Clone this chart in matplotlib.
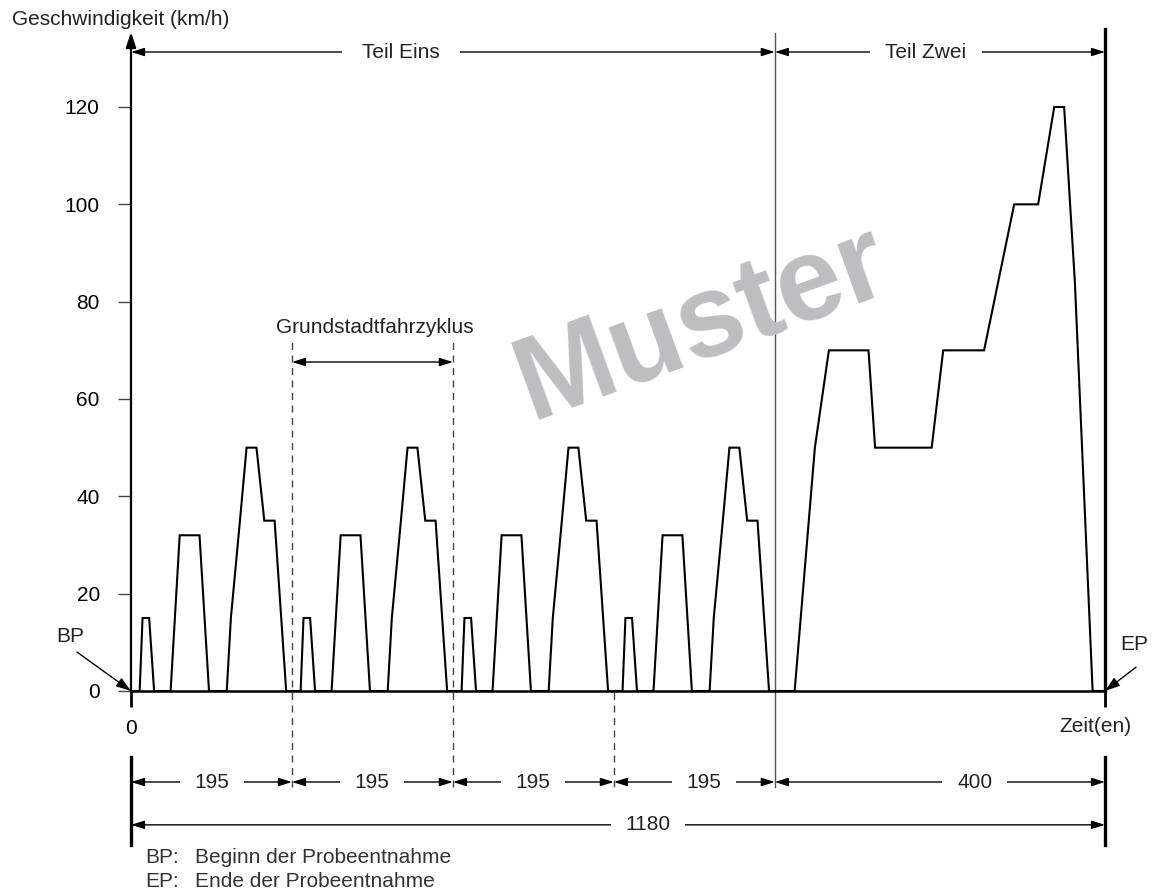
import matplotlib
matplotlib.use("Agg")
import numpy as np
import matplotlib.pyplot as plt

plt.rcParams['font.family'] = ['Liberation Sans', 'DejaVu Sans']

# Ein Grundstadtfahrzyklus (Zeit in s, Geschwindigkeit in km/h)
cycle_t = [0, 10.5, 14, 22, 28, 48, 59, 83, 94.5, 116, 121, 132, 140, 152, 161.5, 174, 188, 195]
cycle_v = [0, 0, 15, 15, 0, 0, 32, 32, 0, 0, 15, 35, 50, 50, 35, 35, 0, 0]
cycle_starts = [0, 195, 390, 585]

# Teil Zwei (ab 780 s)
eudc_start = 780
eudc_t = [0, 24, 48.5, 65.5, 113.5, 121.5, 190, 204, 253.5, 290, 319, 338.5, 350.5, 363.5, 385, 400]
eudc_v = [0, 0, 50, 70, 70, 50, 50, 70, 70, 100, 100, 120, 120, 84, 0, 0]

seg_lengths = [195, 195, 195, 195, 400]
seg_labels = ["195", "195", "195", "195", "400"]
total = 1180
y_ticks = [0, 20, 40, 60, 80, 100, 120]

t = np.concatenate([np.array(cycle_t) + s for s in cycle_starts] + [np.array(eudc_t) + eudc_start])
v = np.concatenate([np.array(cycle_v) for s in cycle_starts] + [np.array(eudc_v)])

fig = plt.figure(figsize=(11.53, 8.91), dpi=100)
ax = fig.add_axes([131 / 1153, 200 / 891, 974 / 1153, 584 / 891])
ax.set_xlim(0, total)
ax.set_ylim(0, 120)
for s in ax.spines.values():
    s.set_visible(False)

FS = 15
ax.set_yticks(y_ticks)
ax.set_yticklabels([str(y) for y in y_ticks], fontsize=FS)
ax.tick_params(axis='y', direction='out', length=9.5, width=1, color='#444', pad=13)
ax.set_xticks([0, total])
ax.set_xticklabels(["0", ""], fontsize=FS)
ax.tick_params(axis='x', direction='out', length=11.5, width=2, color='k', pad=9)

def arrow(x0, y0, x1, y1, style='<|-|>', lw=1.0, color='k', hl=0.8, hw=0.25):
    ax.annotate('', xy=(x1, y1), xytext=(x0, y0), annotation_clip=False,
                arrowprops=dict(arrowstyle=f'{style},head_length={hl},head_width={hw}',
                                lw=lw, color=color, shrinkA=0, shrinkB=0,
                                mutation_scale=10))

def label(x, y, s, pad=0.75):
    ax.text(x, y, s, fontsize=FS, ha='center', va='center', color='#222', zorder=5,
            bbox=dict(boxstyle=f'square,pad={pad}', fc='white', ec='none'))

# Achsen
arrow(0, 0, 0, 135.4, style='-|>', lw=1.6, hl=0.9, hw=0.3)
ax.plot([0, total], [0, 0], color='k', lw=1.8, clip_on=False, zorder=3)
ax.plot([total, total], [0, 136.0], color='k', lw=2.4, clip_on=False, zorder=3)

# Kurve
ax.plot(t, v, color='k', lw=1.5, clip_on=False, solid_joinstyle='miter', zorder=4)

# Trennlinie Teil Eins / Teil Zwei
ax.plot([eudc_start, eudc_start], [-19.7, 135.2], color='#555', lw=1.0, clip_on=False)

# Gestrichelte Zyklusgrenzen
for b, top in zip(cycle_starts[1:], [72.1, 72.1, 0]):
    ax.plot([b, b], [-19.7, top], color='#444', lw=1.0, ls=(0, (5, 4)), clip_on=False)

# Teil Eins / Teil Zwei
arrow(0, 131.3, eudc_start, 131.3)
label(327, 131.3, "Teil Eins", pad=0.95)
arrow(eudc_start, 131.3, total, 131.3)
label(963, 131.3, "Teil Zwei", pad=0.75)

# Grundstadtfahrzyklus
ax.text(292.5 + 3, 74.6, "Grundstadtfahrzyklus", fontsize=FS, ha='center', va='center', color='#222')
arrow(195, 67.6, 390, 67.6)

# Bemaßung unten
bounds = np.concatenate([[0], np.cumsum(seg_lengths)])
label_x = [98, 292, 487, 694, 1022]
for i, lab in enumerate(seg_labels):
    arrow(bounds[i], -18.7, bounds[i + 1], -18.7)
    label(label_x[i], -18.7, lab, pad=0.7)
arrow(0, -27.5, total, -27.5)
label(626, -27.5, str(total), pad=0.7)
for xb in [0, total]:
    ax.plot([xb, xb], [-13.6, -31.6], color='k', lw=2.4, clip_on=False)

# Beschriftungen
ax.text(-144, 137.9, "Geschwindigkeit (km/h)", fontsize=FS, ha='left', va='center', color='#222')
ax.text(1168, -7.2, "Zeit(en)", fontsize=FS, ha='center', va='center', color='#222')
ax.text(-74, 11.3, "BP", fontsize=FS, ha='center', va='center', color='#222')
arrow(-65.4, 8.0, 0, 0, style='-|>', lw=1.0, hl=0.9, hw=0.3)
ax.text(1216, 9.5, "EP", fontsize=FS, ha='center', va='center', color='#222')
arrow(1217.6, 4.9, total, 0, style='-|>', lw=1.0, hl=0.9, hw=0.3)

ax.text(17, -34.3, "BP:", fontsize=FS, ha='left', va='center', color='#333')
ax.text(77.5, -34.3, "Beginn der Probeentnahme", fontsize=FS, ha='left', va='center', color='#333')
ax.text(17, -39.2, "EP:", fontsize=FS, ha='left', va='center', color='#333')
ax.text(77.5, -39.2, "Ende der Probeentnahme", fontsize=FS, ha='left', va='center', color='#333')

# Wasserzeichen
ax.text(692, 75.2, "Muster", fontsize=85, fontweight='bold', color='#bdbec0',
        ha='center', va='center', rotation=20, zorder=2)

fig.savefig("out.png", dpi=100)
